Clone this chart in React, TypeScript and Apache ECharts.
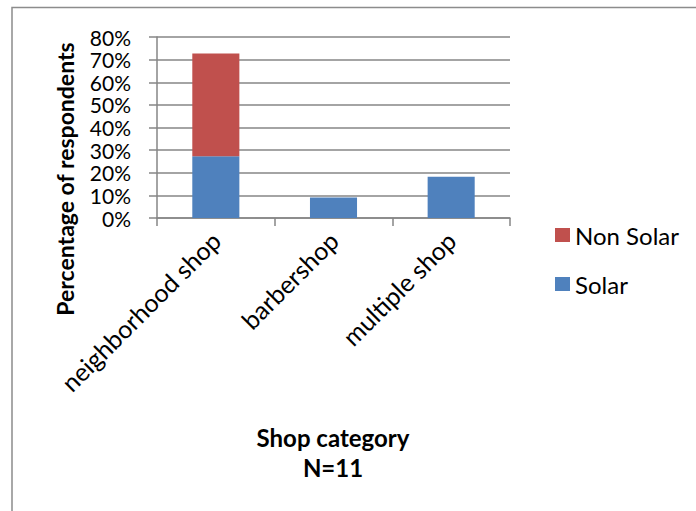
import React, { useEffect, useRef } from "react";
import * as echarts from "echarts";

const categories = ["neighborhood shop", "barbershop", "multiple shop"];
const solarValues = [27.27, 9.09, 18.18];
const nonSolarValues = [45.45, 0, 0];
const yTicks = { min: 0, max: 80, interval: 10 };
const xTitle = "Shop category";
const xSubTitle = "N=11";
const yTitle = "Percentage of respondents";

const FONT = "Lato, 'Open Sans', sans-serif";

export default function App() {
  const ref = useRef<HTMLDivElement>(null);
  useEffect(() => {
    if (!ref.current) return;
    const chart = echarts.init(ref.current, null, { renderer: "svg" });
    const grey = "#868686";
    chart.setOption({
      animation: false,
      backgroundColor: "#ffffff",
      textStyle: { fontFamily: FONT },
      grid: { left: 157, right: 186, top: 37, bottom: 293, containLabel: false },
      legend: {
        orient: "vertical",
        left: 550,
        top: 218,
        itemWidth: 15,
        itemHeight: 14,
        itemGap: 25,
        icon: "rect",
        data: ["Non Solar", "Solar"],
        textStyle: { fontSize: 24, color: "#000", fontFamily: FONT },
      },
      xAxis: {
        type: "category",
        data: categories,
        axisLine: { show: true, lineStyle: { color: grey, width: 1.5 } },
        axisTick: { show: true, length: 8, alignWithLabel: false, lineStyle: { color: grey, width: 1.5 } },
        axisLabel: {
          rotate: 45,
          margin: 18,
          color: "#000",
          fontSize: 25,
          fontFamily: FONT,
          interval: 0,
        },
        splitLine: { show: false },
      },
      yAxis: {
        type: "value",
        min: yTicks.min,
        max: yTicks.max,
        interval: yTicks.interval,
        axisLine: { show: true, lineStyle: { color: grey, width: 1.5 } },
        axisTick: { show: true, length: 8, lineStyle: { color: grey, width: 1.5 } },
        axisLabel: {
          formatter: "{value}%",
          margin: 26,
          color: "#000",
          fontSize: 21,
          lineHeight: 21,
          fontFamily: FONT,
          showMinLabel: true,
          showMaxLabel: true,
          hideOverlap: false,
        },
        splitLine: { show: true, lineStyle: { color: grey, width: 1.5 } },
      },
      series: [
        {
          name: "Solar",
          type: "bar",
          stack: "total",
          barWidth: "40%",
          itemStyle: { color: "#4F81BD" },
          data: solarValues,
        },
        {
          name: "Non Solar",
          type: "bar",
          stack: "total",
          barWidth: "40%",
          itemStyle: { color: "#C0504D" },
          data: nonSolarValues.map((v) => (v === 0 ? "-" : v)),
        },
      ],
      graphic: [
        {
          type: "rect",
          shape: { x: 12, y: 7.5, width: 720, height: 540 },
          style: { fill: "none", stroke: "#8c8c8c", lineWidth: 1.5 },
          silent: true,
        },
        {
          type: "text",
          x: 65,
          y: 179,
          rotation: Math.PI / 2,
          style: {
            text: yTitle,
            fontSize: 23,
            fontWeight: "bold",
            fontFamily: FONT,
            fill: "#000",
            align: "center",
            verticalAlign: "middle",
          },
        },
        {
          type: "text",
          x: 333,
          y: 437,
          style: {
            text: xTitle,
            fontSize: 24,
            fontWeight: "bold",
            fontFamily: FONT,
            fill: "#000",
            align: "center",
            verticalAlign: "middle",
          },
        },
        {
          type: "text",
          x: 333,
          y: 467,
          style: {
            text: xSubTitle,
            fontSize: 24,
            fontWeight: "bold",
            fontFamily: FONT,
            fill: "#000",
            align: "center",
            verticalAlign: "middle",
          },
        },
      ],
    });
    return () => chart.dispose();
  }, []);
  return (
    <div
      ref={ref}
      style={{ position: "fixed", left: 0, top: 0, width: 696, height: 511, background: "#fff" }}
    />
  );
}
